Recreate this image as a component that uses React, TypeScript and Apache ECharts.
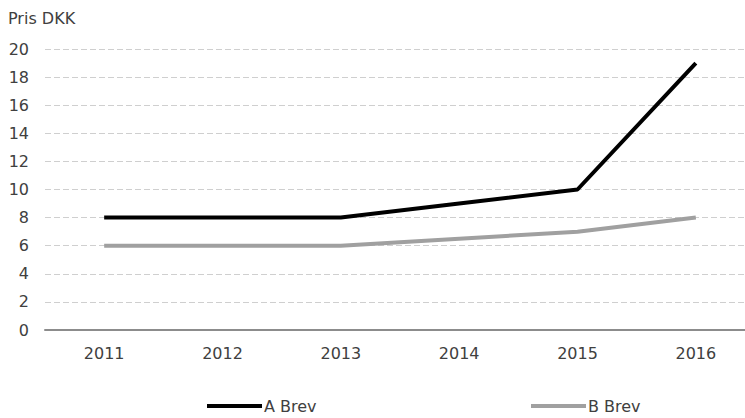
import React, { useEffect, useRef } from "react";
import * as echarts from "echarts";

const categories = ["2011", "2012", "2013", "2014", "2015", "2016"];
const aBrev = [8, 8, 8, 9, 10, 19];
const bBrev = [6, 6, 6, 6.5, 7, 8];
const seriesNames = ["A Brev", "B Brev"];
const yTitle = "Pris DKK";

const FONT = "DejaVu Sans";
const TXT = "#404040";
const FS = 16;

export default function App() {
  const ref = useRef<HTMLDivElement>(null);
  useEffect(() => {
    if (!ref.current) return;
    const chart = echarts.init(ref.current, undefined, { renderer: "svg" });
    const legendCommon = {
      top: 398,
      itemWidth: 55,
      itemHeight: 16,
      itemGap: 0,
      padding: 0,
      icon: "path://M0,6L55,6L55,10L0,10Z",
      textStyle: { fontFamily: FONT, fontSize: FS, color: TXT, padding: [0, 0, 0, -3] },
    };
    chart.setOption({
      animation: false,
      backgroundColor: "#ffffff",
      title: {
        text: yTitle,
        left: 3,
        top: 5,
        textStyle: { fontFamily: FONT, fontSize: FS, fontWeight: "normal", color: TXT },
      },
      grid: { left: 45, right: 0, top: 49, bottom: 88, containLabel: false },
      legend: [
        { ...legendCommon, data: [seriesNames[0]], left: 207 },
        { ...legendCommon, data: [seriesNames[1]], left: 531 },
      ],
      xAxis: {
        type: "category",
        data: categories,
        boundaryGap: true,
        axisLine: { lineStyle: { color: "#8c8c8c", width: 2 } },
        axisTick: { show: false },
        axisLabel: { fontFamily: FONT, fontSize: FS, color: TXT, margin: 15 },
      },
      yAxis: {
        type: "value",
        min: 0,
        max: 20,
        interval: 2,
        axisLine: { show: false },
        axisTick: { show: false },
        axisLabel: { fontFamily: FONT, fontSize: FS, color: TXT, margin: 16 },
        splitLine: { lineStyle: { color: "#cfcfcf", width: 1, type: [6, 3] } },
      },
      series: [
        {
          name: seriesNames[0],
          type: "line",
          data: aBrev,
          symbol: "none",
          lineStyle: { color: "#000000", width: 4 },
          itemStyle: { color: "#000000" },
        },
        {
          name: seriesNames[1],
          type: "line",
          data: bBrev,
          symbol: "none",
          lineStyle: { color: "#a0a0a0", width: 4 },
          itemStyle: { color: "#a0a0a0" },
        },
      ],
    });
    return () => chart.dispose();
  }, []);
  return (
    <div style={{ position: "fixed", left: 0, top: 0, width: 745, height: 418, overflow: "hidden" }}>
      <div ref={ref} style={{ width: 755, height: 418 }} />
    </div>
  );
}
